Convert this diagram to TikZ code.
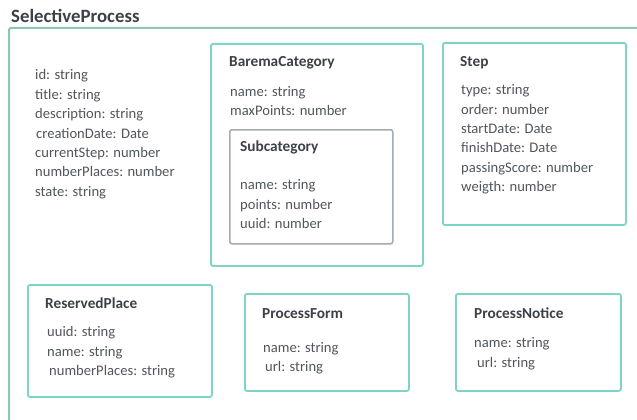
\documentclass[tikz,border=0pt]{standalone}
\usepackage{fontspec}
\setmainfont{Carlito}
\usetikzlibrary{positioning}
\definecolor{frameline}{HTML}{8CC5B4}
\definecolor{boxline}{HTML}{7ED5C7}
\definecolor{subline}{HTML}{A3ABB3}
\definecolor{attrtext}{HTML}{50565C}
\definecolor{titletext}{HTML}{3C4147}

\begin{document}
\begin{tikzpicture}
	[x=1pt,y=-1pt,
	box/.style={draw=boxline, line width=1.8pt, rounded corners=2pt,
		anchor=north west, inner sep=0pt},
	subbox/.style={draw=subline, line width=1.5pt, rounded corners=2pt,
		anchor=north west, inner sep=0pt},
	title/.style={anchor=base west, inner sep=0pt, text=titletext,
		font=\fontsize{15.3}{17}\selectfont\bfseries},
	attrs/.style={anchor=north west, inner sep=0pt, align=left, text=attrtext,
		font=\fontsize{14.6}{19.4}\selectfont, execute at begin node=\strut}]
	\useasboundingbox (0,0) rectangle (637,420);

	%% outer frame
	\coordinate (fr) at (640,28);
	\coordinate (fb) at (9,425);
	\node[title, font=\fontsize{18.8}{20}\selectfont\bfseries] (sp) at (11,23) {SelectiveProcess};
	\draw[draw=frameline, line width=2pt, rounded corners=2pt] (fr) -- (9,28) -- (fb);

	\node[attrs] (spattr) at (35,69.5) {id: string\\title: string\\description: string\\
		\hspace{1pt}creationDate: Date\\currentStep: number\\numberPlaces: number\\state: string};

	%% boxes
	\node[box, minimum width=212pt, minimum height=222pt] (barema) at (210,43) {};
	\node[subbox, minimum width=163pt, minimum height=114pt] (subcat) at (229,129) {};
	\node[box, minimum width=183pt, minimum height=182pt] (step) at (442,42) {};
	\node[box, minimum width=184pt, minimum height=112pt] (reserved) at (27,284) {};
	\node[box, minimum width=164pt, minimum height=97pt] (form) at (244,293) {};
	\node[box, minimum width=165pt, minimum height=97pt] (notice) at (455,293) {};

	%% titles
	\node[title] (baremat) at (229,66.5) {BaremaCategory};
	\node[title] (subcatt) at (240,151.5) {Subcategory};
	\node[title] (stept) at (460,66.5) {Step};
	\node[title] (reservedt) at (45,308) {ReservedPlace};
	\node[title] (formt) at (262,318) {ProcessForm};
	\node[title] (noticet) at (474,318) {ProcessNotice};

	%% attributes
	\node[attrs] (baremaa) at (230,86) {name: string\\maxPoints: number};
	\node[attrs] (subcata) at (240,179.5) {name: string\\points: number\\uuid: number};
	\node[attrs] (stepa) at (461,84.5) {type: string\\order: number\\startDate: Date\\
		finishDate: Date\\passingScore: number\\weigth: number};
	\node[attrs] (reserveda) at (47,326.5) {uuid: string\\name: string\\
		\hspace{2pt}numberPlaces: string};
	\node[attrs] (forma) at (263,342) {name: string\\\hspace{2pt}url: string};
	\node[attrs] (noticea) at (474,337.5) {name: string\\\hspace{3pt}url: string};
\end{tikzpicture}
\end{document}
